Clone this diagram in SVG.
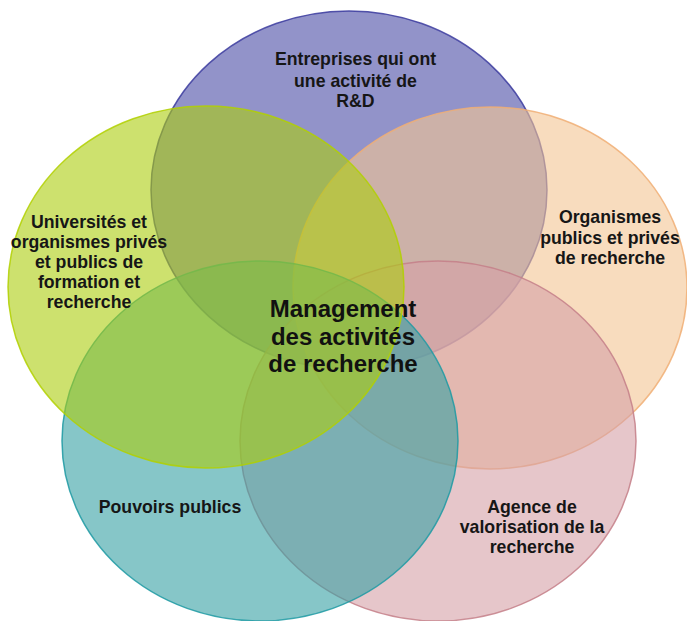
<svg xmlns="http://www.w3.org/2000/svg" width="687" height="621" viewBox="0 0 687 621">
  <style>
    .set { stroke-width: 1.5; fill-opacity: 0.6; stroke-opacity: 0.85; }
    .lbl { font-family: "Liberation Sans", Arial, Helvetica, sans-serif; font-weight: bold; font-size: 17.7px; fill: #161616; text-anchor: middle; }
    .ctr { font-family: "Liberation Sans", Arial, Helvetica, sans-serif; font-weight: bold; font-size: 24px; fill: #111111; text-anchor: middle; }
  </style>
  <rect x="0" y="0" width="687" height="621" fill="#ffffff"/>
  <g id="node-entreprises">
    <ellipse class="set" cx="349" cy="190" rx="198" ry="179" fill="#494BA5" stroke="#3A3A9E"/>
    <text class="lbl" x="355.5" y="65">Entreprises qui ont</text>
    <text class="lbl" x="355.5" y="86.5">une activité de</text>
    <text class="lbl" x="355.5" y="107">R&amp;D</text>
  </g>
  <g id="node-organismes">
    <ellipse class="set" cx="490" cy="288" rx="197" ry="181" fill="#F3C593" stroke="#F0AE74"/>
    <text class="lbl" x="610" y="223">Organismes</text>
    <text class="lbl" x="610" y="243.5">publics et privés</text>
    <text class="lbl" x="610" y="264">de recherche</text>
  </g>
  <g id="node-agence">
    <ellipse class="set" cx="438" cy="441" rx="198" ry="180" fill="#D5A0A7" stroke="#C47F88"/>
    <text class="lbl" x="532" y="513">Agence de</text>
    <text class="lbl" x="532" y="533">valorisation de la</text>
    <text class="lbl" x="532" y="553">recherche</text>
  </g>
  <g id="node-pouvoirs">
    <ellipse class="set" cx="260" cy="441" rx="198" ry="180" fill="#35A0A3" stroke="#1E9AA3"/>
    <text class="lbl" x="170" y="513">Pouvoirs publics</text>
  </g>
  <g id="node-universites">
    <ellipse class="set" cx="206" cy="287" rx="198" ry="181" fill="#ACCD0D" stroke="#B2D000"/>
    <text class="lbl" x="89" y="228">Universités et</text>
    <text class="lbl" x="89" y="248">organismes privés</text>
    <text class="lbl" x="89" y="268">et publics de</text>
    <text class="lbl" x="89" y="288">formation et</text>
    <text class="lbl" x="89" y="308">recherche</text>
  </g>
  <g id="connectors"></g>
  <g id="center-label">
    <text class="ctr" x="343" y="317">Management</text>
    <text class="ctr" x="343" y="344.5">des activités</text>
    <text class="ctr" x="343" y="372">de recherche</text>
  </g>
</svg>
